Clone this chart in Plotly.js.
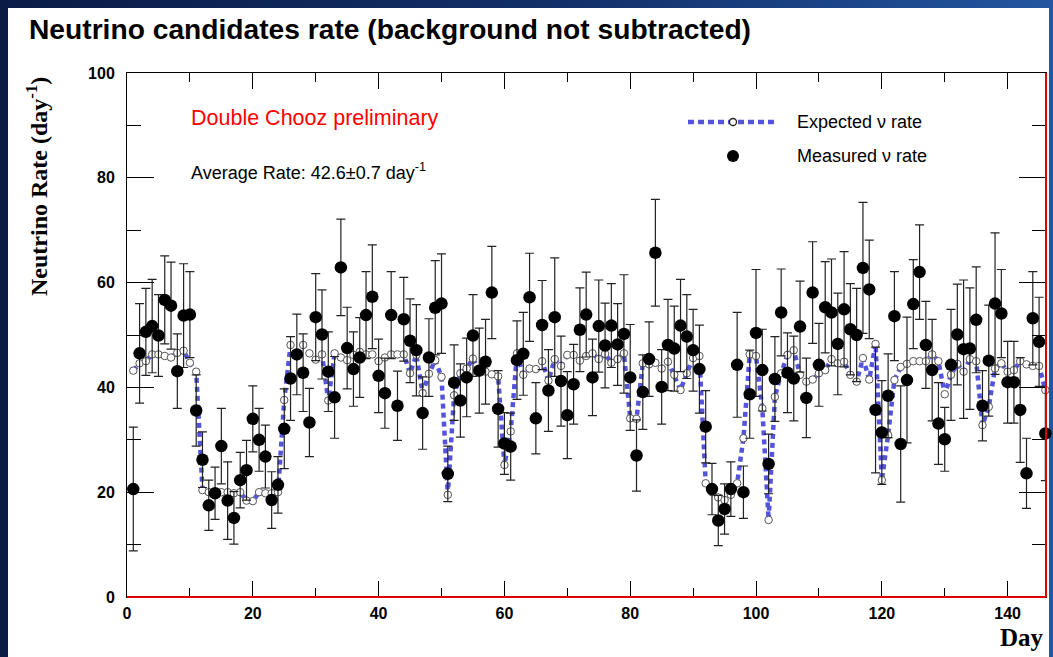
<!DOCTYPE html>
<html>
<head>
<meta charset="utf-8">
<script src="https://cdn.plot.ly/plotly-3.0.1.min.js"></script>
<style>
  html, body { margin: 0; padding: 0; width: 1053px; height: 657px; overflow: hidden; }
  body { background: linear-gradient(to right, #0a1c46 0%, #13306a 55%, #2356a0 100%); position: relative; }
  #panel { position: absolute; left: 8px; top: 8px; width: 1041px; height: 649px; background: #ffffff; }
  #chart { position: absolute; left: 0; top: 0; width: 1053px; height: 657px; }
</style>
</head>
<body>
<div id="panel"></div>
<div id="chart"></div>
<script>
// ---- data ----
const days = [1,2,3,4,5,6,7,8,9,10,11,12,13,14,15,16,17,18,19,20,21,22,23,24,25,26,27,28,29,30,
  31,32,33,34,35,36,37,38,39,40,41,42,43,44,45,46,47,48,49,50,51,52,53,54,55,56,57,58,59,60,
  61,62,63,64,65,66,67,68,69,70,71,72,73,74,75,76,77,78,79,80,81,82,83,84,85,86,87,88,89,90,
  91,92,93,94,95,96,97,98,99,100,101,102,103,104,105,106,107,108,109,110,111,112,113,114,115,116,117,118,119,120,
  121,122,123,124,125,126,127,128,129,130,131,132,133,134,135,136,137,138,139,140,141,142,143,144,145,146];

const measuredRate = [20.6,46.5,50.6,51.7,49.9,56.7,55.6,43.1,53.7,53.9,
  35.6,26.2,17.5,19.8,28.8,18.4,15.1,22.3,24.2,34.0,
  30.0,26.8,18.5,21.4,32.1,41.7,46.3,42.8,33.3,53.4,
  50.1,43.0,38.1,62.9,47.5,43.5,45.7,53.8,57.3,42.2,
  38.9,53.8,36.5,53.0,48.9,47.1,35.1,45.7,55.2,56.0,
  23.5,40.9,37.5,41.9,49.9,43.2,44.9,58.1,35.9,29.3,
  28.7,45.2,46.4,57.2,34.1,51.9,39.4,53.4,41.2,34.7,
  40.6,51.0,53.9,41.9,51.7,48.0,51.8,48.2,50.2,41.9,
  27.0,39.1,45.4,65.7,40.1,48.1,47.4,51.8,49.7,47.1,
  43.5,32.5,20.6,14.6,16.8,20.6,44.3,20.0,38.7,50.4,
  43.3,25.4,41.6,54.3,42.8,41.7,51.6,38.0,58.1,44.3,
  55.3,54.3,48.3,54.9,51.1,50.0,62.8,58.7,35.7,31.4,
  38.4,53.6,29.2,41.4,55.9,62.0,48.1,43.3,33.1,30.1,
  44.3,50.1,47.3,47.4,52.9,36.5,45.1,56.0,54.1,41.0,
  41.0,35.7,23.6,53.2,48.7,31.2];

const measuredErr = [11.8,9.5,8.3,8.9,7.8,8.4,8.3,7.1,9.9,8.2,
  6.8,5.3,4.8,5.0,7.2,7.4,5.0,5.3,5.7,6.3,
  6.0,6.0,5.4,5.4,7.6,8.0,7.7,7.4,6.5,8.3,
  8.5,7.6,7.8,9.2,7.8,7.1,7.6,8.3,9.9,7.0,
  6.7,8.3,6.6,8.0,8.0,8.7,6.9,7.4,9.0,9.5,
  5.3,7.2,7.0,7.5,7.8,8.1,8.1,8.8,7.3,5.9,
  6.4,7.5,7.9,8.4,6.8,8.5,7.8,11.3,8.6,8.3,
  7.6,8.0,8.1,7.3,8.8,8.1,8.0,7.8,11.3,10.1,
  6.8,7.1,7.1,10.2,7.1,8.7,8.1,8.8,8.0,7.8,
  8.4,6.9,4.9,4.8,4.8,5.2,10.0,5.0,8.4,12.1,
  7.8,5.7,8.1,8.3,7.6,8.1,8.7,7.6,9.7,7.9,
  8.7,10.2,9.7,11.0,8.7,8.9,12.5,9.4,12.0,9.9,
  8.0,8.5,11.1,12.0,8.5,9.0,8.3,9.7,7.8,6.1,
  10.6,9.6,13.2,11.6,10.1,6.7,10.6,13.5,8.4,7.8,
  7.8,10.0,6.7,8.9,8.5,9.0];

const expectedRate = [43.2,44.6,45.0,46.3,46.3,46.0,45.7,46.6,47.0,44.7,
  43.0,20.4,20.0,19.8,20.0,20.0,19.8,20.0,18.4,18.3,
  20.0,19.8,19.8,20.0,37.6,48.1,46.0,48.1,46.5,45.3,
  46.3,37.5,46.5,45.7,45.2,46.2,46.8,46.3,46.3,45.0,
  45.7,46.3,46.3,46.3,42.7,46.2,38.9,42.6,45.2,42.0,
  19.5,38.5,42.7,43.6,45.5,43.3,43.0,42.5,42.1,25.2,
  31.6,46.5,42.4,43.6,43.5,45.0,41.3,45.4,44.1,46.2,
  46.2,45.1,46.0,46.5,45.4,46.4,44.7,45.4,46.5,34.1,
  34.0,44.6,44.4,44.7,43.6,44.9,42.4,39.5,42.7,45.6,
  46.0,21.7,20.0,19.0,18.5,19.5,21.7,30.3,46.3,46.0,
  36.0,14.7,38.2,42.7,46.2,47.1,42.4,41.1,41.5,42.7,
  43.3,45.4,44.6,44.9,42.4,41.1,45.6,41.5,48.3,22.3,
  30.9,41.4,43.9,44.5,45.0,45.0,45.0,46.3,45.0,38.7,
  42.4,44.5,43.0,45.4,45.0,32.8,36.3,43.6,44.6,43.0,
  43.3,45.0,44.4,44.1,44.1,39.5];

const xTickVals = [0,20,40,60,80,100,120,140];
const yTickVals = [0,20,40,60,80,100];

// ---- drawing ----
const sans = "'Liberation Sans', Arial, sans-serif";
const serif = "'Liberation Serif', 'Times New Roman', serif";
const blue = '#5353dc';

// pixel -> paper helpers for decorations (plot area 127..1046 x 73..597)
const L = 127, R = 1046, T = 73, B = 597;
const px = p => (p - L) / (R - L);
const py = p => (B - p) / (B - T);

const expectedTrace = {
  x: days, y: expectedRate, type: 'scatter', mode: 'lines+markers',
  line: { color: blue, width: 4.5, dash: '5px,4px' },
  marker: { symbol: 'circle', size: 7.5, color: '#ffffff', line: { color: '#555555', width: 1 } },
  hoverinfo: 'skip', cliponaxis: false
};
const measuredTrace = {
  x: days, y: measuredRate, type: 'scatter', mode: 'markers',
  marker: { symbol: 'circle', size: 12.5, color: '#000000' },
  error_y: { type: 'data', array: measuredErr, visible: true, color: '#222222', thickness: 1.2, width: 4.5 },
  hoverinfo: 'skip', cliponaxis: false
};

const layout = {
  width: 1053, height: 657,
  margin: { l: L, r: 1053 - R, t: T, b: 657 - B, pad: 0 },
  paper_bgcolor: 'rgba(0,0,0,0)',
  plot_bgcolor: 'rgba(0,0,0,0)',
  showlegend: false,
  hovermode: false,
  xaxis: {
    range: [0, 146.1], tickvals: xTickVals, ticktext: xTickVals.map(String),
    ticks: 'inside', ticklen: 16, tickwidth: 1, tickcolor: '#000',
    minor: { dtick: 10, tick0: 0, ticks: 'inside', ticklen: 9, tickcolor: '#000', tickwidth: 1, showgrid: false },
    showline: true, linecolor: '#000', linewidth: 1, mirror: 'ticks',
    showgrid: false, zeroline: false,
    tickfont: { family: sans, size: 16, color: '#000', weight: 'bold' },
    ticklabelstandoff: 2
  },
  yaxis: {
    range: [0, 100], tickvals: yTickVals, ticktext: yTickVals.map(String),
    ticks: 'inside', ticklen: 27, tickwidth: 1, tickcolor: '#000',
    minor: { dtick: 10, tick0: 0, ticks: 'inside', ticklen: 14, tickcolor: '#000', tickwidth: 1, showgrid: false },
    showline: true, linecolor: '#000', linewidth: 1, mirror: 'ticks',
    showgrid: false, zeroline: false,
    tickfont: { family: sans, size: 16, color: '#000', weight: 'bold' },
    ticklabelstandoff: 8
  },
  shapes: [
    { type: 'line', xref: 'paper', yref: 'paper', x0: 0, x1: 1, y0: 0, y1: 0, line: { color: '#e00000', width: 2 } },
    { type: 'line', xref: 'paper', yref: 'paper', x0: 1, x1: 1, y0: 0, y1: 1, line: { color: '#e00000', width: 2 } },
    { type: 'line', xref: 'paper', yref: 'paper', x0: px(688), x1: px(777), y0: py(122), y1: py(122),
      line: { color: blue, width: 4.5, dash: '6px,4px' } },
    { type: 'circle', xref: 'paper', yref: 'paper', xsizemode: 'pixel', ysizemode: 'pixel',
      xanchor: px(733), yanchor: py(122), x0: -3.5, x1: 3.5, y0: -3.5, y1: 3.5,
      fillcolor: '#ffffff', line: { color: '#222222', width: 1.3 } },
    { type: 'circle', xref: 'paper', yref: 'paper', xsizemode: 'pixel', ysizemode: 'pixel',
      xanchor: px(733), yanchor: py(156), x0: -6, x1: 6, y0: -6, y1: 6,
      fillcolor: '#000000', line: { color: '#000000', width: 0 } }
  ],
  annotations: [
    { text: 'Neutrino candidates rate (background not subtracted)', xref: 'paper', yref: 'paper',
      x: px(27), y: py(29), xanchor: 'left', yanchor: 'middle', showarrow: false,
      font: { family: sans, size: 28.2, color: '#000', weight: 'bold' } },
    { text: 'Double Chooz preliminary', xref: 'paper', yref: 'paper',
      x: px(189), y: py(118), xanchor: 'left', yanchor: 'middle', showarrow: false,
      font: { family: sans, size: 21.5, color: '#ff0000' } },
    { text: 'Average Rate: 42.6±0.7 day<sup>-1</sup>', xref: 'paper', yref: 'paper',
      x: px(189), y: py(171), xanchor: 'left', yanchor: 'middle', showarrow: false,
      font: { family: sans, size: 18, color: '#000' } },
    { text: 'Expected ν rate', xref: 'paper', yref: 'paper',
      x: px(795), y: py(122), xanchor: 'left', yanchor: 'middle', showarrow: false,
      font: { family: sans, size: 18, color: '#000' } },
    { text: 'Measured ν rate', xref: 'paper', yref: 'paper',
      x: px(795), y: py(156), xanchor: 'left', yanchor: 'middle', showarrow: false,
      font: { family: sans, size: 18, color: '#000' } },
    { text: 'Day', xref: 'paper', yref: 'paper',
      x: px(1046), y: py(637), xanchor: 'right', yanchor: 'middle', showarrow: false,
      font: { family: serif, size: 25, color: '#000', weight: 'bold' } },
    { text: 'Neutrino Rate (day<sup>-1</sup>)', xref: 'paper', yref: 'paper', textangle: -90,
      x: px(37), y: py(187), xanchor: 'center', yanchor: 'middle', showarrow: false,
      font: { family: serif, size: 24, color: '#000', weight: 'bold' } }
  ]
};

Plotly.newPlot('chart', [expectedTrace, measuredTrace], layout, { staticPlot: true, displayModeBar: false });
</script>
</body>
</html>
